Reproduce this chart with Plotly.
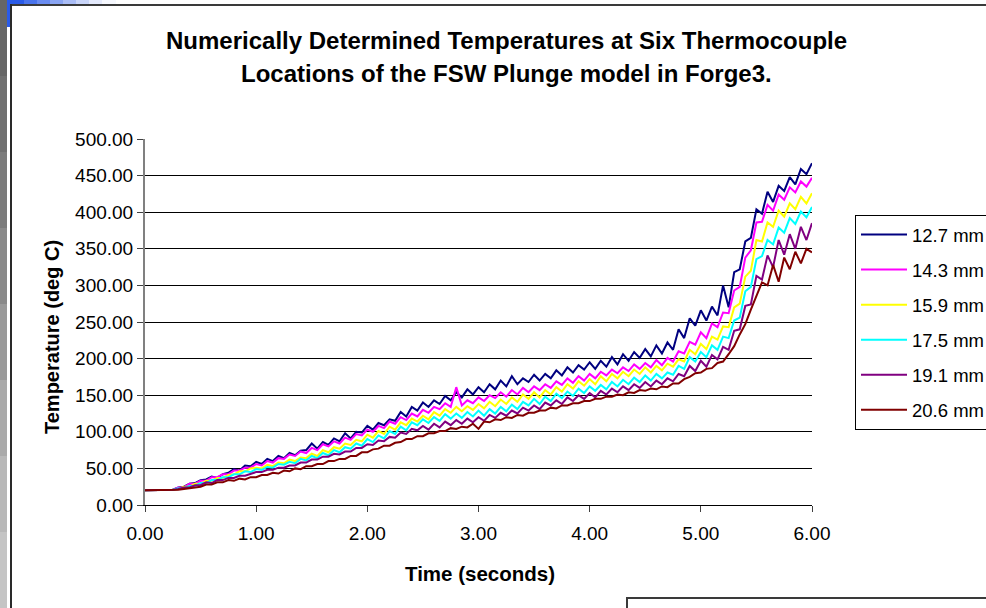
import plotly.graph_objects as go

# ---------------- data ----------------
time_s = [round(i * 0.05, 2) for i in range(121)]  # sample times 0.00 .. 6.00 s

series_names = ["12.7 mm", "14.3 mm", "15.9 mm", "17.5 mm", "19.1 mm", "20.6 mm"]

temp_12_7 = [
    20, 20, 20, 20, 20, 21, 24, 25, 29, 30,
    34, 35, 39, 37, 42, 44, 49, 47, 54, 53,
    59, 56, 63, 60, 67, 64, 71, 68, 74, 75,
    84, 77, 86, 82, 91, 87, 98, 91, 100, 99,
    108, 103, 112, 109, 117, 115, 127, 121, 134, 129,
    140, 134, 143, 138, 149, 143, 154, 147, 158, 151,
    161, 154, 165, 158, 170, 162, 176, 165, 173, 168,
    178, 170, 179, 173, 184, 177, 188, 181, 191, 185,
    195, 186, 197, 189, 202, 192, 206, 197, 209, 201,
    213, 203, 218, 207, 222, 212, 240, 228, 255, 245,
    266, 252, 271, 259, 300, 270, 318, 322, 360, 365,
    404, 398, 428, 414, 436, 429, 448, 438, 459, 452,
    467,
]
temp_14_3 = [
    20, 20, 20, 20, 20, 21, 24, 24, 29, 29,
    33, 33, 38, 38, 42, 42, 47, 47, 51, 51,
    56, 54, 60, 58, 64, 63, 69, 67, 73, 71,
    78, 75, 83, 80, 87, 84, 92, 89, 97, 95,
    103, 100, 108, 105, 114, 111, 120, 116, 125, 121,
    130, 126, 134, 131, 139, 134, 161, 136, 143, 139,
    147, 142, 150, 146, 154, 148, 157, 151, 160, 154,
    162, 157, 165, 160, 169, 164, 173, 167, 176, 170,
    179, 173, 182, 177, 185, 180, 188, 183, 192, 186,
    194, 188, 198, 191, 201, 196, 210, 207, 223, 219,
    236, 228, 248, 243, 263, 262, 293, 298, 338, 348,
    386, 387, 410, 402, 424, 417, 434, 427, 442, 435,
    447,
]
temp_15_9 = [
    20, 20, 20, 20, 20, 21, 22, 25, 25, 29,
    29, 33, 33, 37, 37, 41, 42, 46, 46, 50,
    51, 50, 55, 53, 58, 57, 62, 60, 65, 64,
    70, 67, 75, 72, 79, 77, 84, 82, 89, 87,
    96, 92, 101, 97, 107, 103, 113, 109, 118, 114,
    122, 117, 127, 122, 131, 126, 134, 128, 135, 130,
    138, 132, 141, 135, 144, 138, 147, 141, 151, 145,
    154, 147, 157, 151, 161, 155, 165, 159, 169, 163,
    172, 165, 176, 169, 179, 173, 182, 176, 185, 179,
    188, 181, 190, 184, 193, 189, 199, 196, 212, 206,
    220, 213, 230, 226, 244, 243, 270, 275, 312, 320,
    362, 360, 386, 380, 402, 394, 412, 404, 421, 412,
    426,
]
temp_17_5 = [
    20, 20, 20, 20, 20, 21, 23, 23, 26, 26,
    30, 30, 34, 34, 38, 38, 42, 42, 46, 45,
    49, 48, 52, 51, 56, 55, 59, 57, 63, 61,
    67, 64, 71, 68, 75, 72, 79, 77, 84, 81,
    90, 86, 95, 91, 101, 97, 107, 102, 113, 109,
    117, 112, 120, 115, 124, 118, 125, 119, 127, 121,
    129, 122, 131, 125, 134, 128, 137, 131, 141, 136,
    145, 138, 148, 142, 152, 146, 155, 149, 159, 153,
    162, 156, 164, 158, 168, 162, 171, 165, 174, 168,
    177, 170, 179, 173, 181, 178, 190, 186, 202, 196,
    209, 202, 218, 212, 230, 228, 252, 256, 292, 298,
    336, 340, 362, 356, 379, 372, 392, 384, 401, 393,
    407,
]
temp_19_1 = [
    20, 20, 20, 20, 20, 21, 22, 24, 24, 27,
    27, 31, 30, 34, 34, 37, 37, 40, 40, 43,
    45, 45, 48, 48, 51, 51, 54, 54, 58, 58,
    62, 62, 66, 66, 70, 69, 73, 73, 78, 78,
    83, 82, 88, 87, 93, 92, 99, 97, 104, 102,
    108, 103, 111, 106, 114, 109, 116, 111, 118, 113,
    120, 115, 123, 119, 126, 122, 129, 125, 133, 129,
    136, 131, 140, 136, 143, 138, 147, 142, 150, 145,
    153, 147, 156, 151, 159, 154, 162, 157, 165, 160,
    168, 162, 170, 165, 173, 169, 179, 176, 190, 183,
    197, 189, 205, 199, 216, 212, 238, 240, 272, 274,
    313, 308, 341, 325, 362, 342, 370, 350, 380, 362,
    385,
]
temp_20_6 = [
    20, 20, 20, 20, 20, 20, 21, 22, 23, 25,
    25, 28, 28, 31, 31, 34, 33, 36, 35, 38,
    38, 41, 41, 44, 43, 47, 46, 50, 49, 53,
    53, 56, 56, 60, 60, 63, 63, 67, 67, 72,
    72, 76, 77, 81, 81, 85, 86, 90, 90, 94,
    94, 98, 98, 101, 101, 105, 104, 107, 106, 111,
    104, 114, 113, 117, 116, 120, 119, 123, 122, 126,
    126, 129, 129, 133, 132, 136, 136, 139, 139, 142,
    142, 145, 145, 148, 148, 151, 150, 154, 153, 157,
    156, 159, 158, 162, 161, 166, 166, 172, 175, 180,
    181, 186, 187, 194, 196, 206, 217, 233, 247, 267,
    285, 304, 300, 328, 305, 338, 322, 346, 330, 350,
    345,
]

series_values = [temp_12_7, temp_14_3, temp_15_9, temp_17_5, temp_19_1, temp_20_6]
series_colors = ["#000080", "#FF00FF", "#FFFF00", "#00FFFF", "#800080", "#800000"]

x_ticks = [0, 1, 2, 3, 4, 5, 6]
y_ticks = [0, 50, 100, 150, 200, 250, 300, 350, 400, 450, 500]

chart_title_lines = ["Numerically Determined Temperatures at Six Thermocouple",
                     "Locations of the FSW Plunge model in Forge3."]
x_title = "Time (seconds)"
y_title = "Temperature (deg C)"

# ---------------- geometry helpers (pixel -> paper) ----------------
W, H = 986, 608
L, R, T, B = 145, 812, 139, 505


def px(x):
    return (x - L) / (R - L)


def py(y):
    return (B - y) / (B - T)


FONT = "Liberation Sans, Arial, sans-serif"

fig = go.Figure()
for name, vals, col in zip(series_names, series_values, series_colors):
    fig.add_trace(go.Scatter(
        x=time_s, y=vals, mode="lines", name=name,
        line=dict(color=col, width=2), legendgroup=name,
    ))

shapes = []
# left grey window strip (gradient approximated)
greys = ["#666666", "#707070", "#7c7c7c", "#8a8a8a", "#9a9a9a", "#aaaaaa", "#b8b8b8", "#c4c4c4"]
seg = H / len(greys)
for i, g in enumerate(greys):
    shapes.append(dict(type="rect", xref="paper", yref="paper",
                       x0=px(0), x1=px(7), y0=py(i * seg), y1=py((i + 1) * seg + 1),
                       fillcolor=g, line=dict(width=0), layer="above"))
# blue title-bar fragment top-left
shapes.append(dict(type="rect", xref="paper", yref="paper", x0=px(7), x1=px(11), y0=py(0), y1=py(27),
                   fillcolor="#2a5be8", line=dict(width=0)))
blues = ["#2a5be8", "#4a74ec", "#6a8cf0", "#8aa5f3", "#aabdf6", "#c9d5f9", "#e4eafc", "#f6f8fe"]
for i, b in enumerate(blues):
    shapes.append(dict(type="rect", xref="paper", yref="paper",
                       x0=px(11 + i * 13), x1=px(11 + (i + 1) * 13 + 1), y0=py(0), y1=py(4),
                       fillcolor=b, line=dict(width=0)))
# chart-area frame
shapes.append(dict(type="line", xref="paper", yref="paper", x0=px(10), x1=px(990), y0=py(5), y1=py(5),
                   line=dict(color="#3a3a3a", width=2)))
shapes.append(dict(type="line", xref="paper", yref="paper", x0=px(11), x1=px(11), y0=py(4), y1=py(612),
                   line=dict(color="#2a2a2a", width=2)))
# bottom-right box
shapes.append(dict(type="rect", xref="paper", yref="paper", x0=px(627), x1=px(995), y0=py(598), y1=py(615),
                   fillcolor="white", line=dict(color="#3a3a3a", width=2)))

fig.update_layout(
    width=W, height=H,
    margin=dict(l=L, r=W - R, t=T, b=H - B, autoexpand=False),
    paper_bgcolor="white", plot_bgcolor="white",
    font=dict(family=FONT, color="black", size=18),
    showlegend=True,
    legend=dict(
        x=px(855), y=py(215), xanchor="left", yanchor="top",
        bordercolor="black", borderwidth=1, bgcolor="white",
        font=dict(family=FONT, size=18.5, color="black"),
        tracegroupgap=8, itemwidth=46, traceorder="grouped",
    ),
    xaxis=dict(
        range=[0, 6], tickvals=x_ticks, tickformat=".2f",
        showgrid=False, zeroline=False,
        showline=True, linecolor="#000000", linewidth=1,
        ticks="outside", ticklen=6, tickcolor="#404040", tickwidth=1,
        tickfont=dict(family=FONT, size=19), ticklabelstandoff=5,
    ),
    yaxis=dict(
        range=[0, 500], tickvals=y_ticks, tickformat=".2f",
        showgrid=True, gridcolor="#000000", gridwidth=1, zeroline=False,
        showline=True, linecolor="#808080", linewidth=2,
        ticks="outside", ticklen=6, tickcolor="#404040", tickwidth=1,
        tickfont=dict(family=FONT, size=19), ticklabelstandoff=0,
    ),
    shapes=shapes,
    annotations=[
        dict(xref="paper", yref="paper", x=px(506), y=py(40), xanchor="center", yanchor="middle",
             text="<b>" + chart_title_lines[0] + "</b>",
             showarrow=False, font=dict(family=FONT, size=24, color="black")),
        dict(xref="paper", yref="paper", x=px(506), y=py(74), xanchor="center", yanchor="middle",
             text="<b>" + chart_title_lines[1] + "</b>",
             showarrow=False, font=dict(family=FONT, size=24, color="black")),
        dict(xref="paper", yref="paper", x=px(480), y=py(573), xanchor="center", yanchor="middle",
             text="<b>" + x_title + "</b>",
             showarrow=False, font=dict(family=FONT, size=20.5, color="black")),
        dict(xref="paper", yref="paper", x=px(52), y=py(337), xanchor="center", yanchor="middle",
             text="<b>" + y_title + "</b>", textangle=-90,
             showarrow=False, font=dict(family=FONT, size=20, color="black")),
    ],
)

fig.write_html("out.html", config={"displayModeBar": False})
